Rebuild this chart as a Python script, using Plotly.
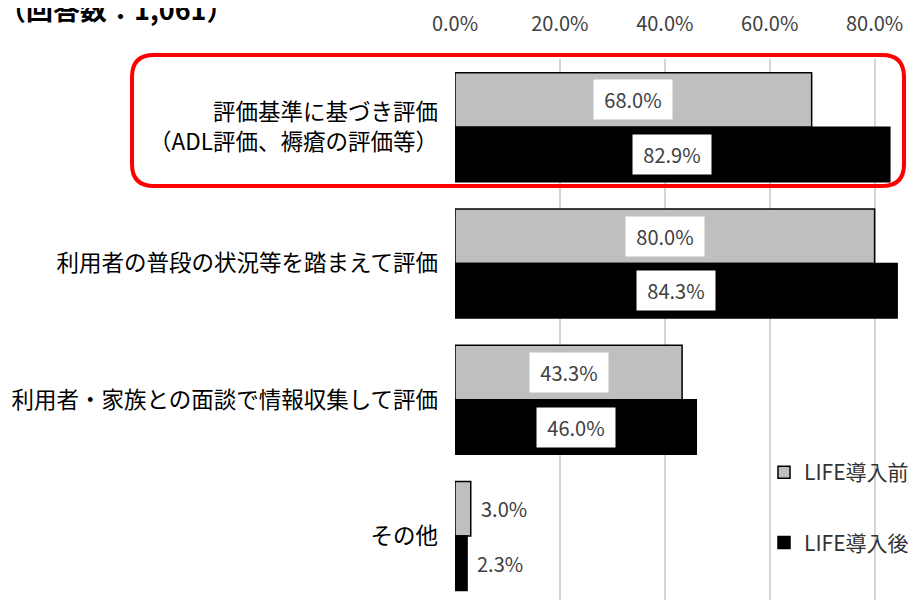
import plotly.graph_objects as go

# data
categories = [
    "評価基準に基づき評価<br>（ADL評価、褥瘡の評価等）",
    "利用者の普段の状況等を踏まえて評価",
    "利用者・家族との面談で情報収集して評価",
    "その他",
]
before_values = [68.0, 80.0, 43.3, 3.0]
after_values = [82.9, 84.3, 46.0, 2.3]
series_names = ["LIFE導入前", "LIFE導入後"]
x_ticks = [0, 20, 40, 60, 80]
title_text = "（回答数：1,061）"

FONT = "Noto Sans CJK JP, Noto Sans, sans-serif"
W, H = 917, 600
OFF = 8  # page body margin of the html page
ML, MT = 455 - OFF, 55 - OFF
PW, PH = W - ML, H - MT
PX_PER_PCT = 5.245
PX_PER_CAT = 137.3


def to_paper(px, py):
    """page pixel position -> paper coords"""
    return (px - OFF - ML) / PW, 1 - (py - OFF - MT) / PH


def rounded_rect(x0p, y0p, x1p, y1p, r):
    x0, yt = to_paper(x0p, y0p)
    x1, yb = to_paper(x1p, y1p)
    rx, ry = r / PW, r / PH
    return (
        f"M {x0+rx},{yt} L {x1-rx},{yt} Q {x1},{yt} {x1},{yt-ry} "
        f"L {x1},{yb+ry} Q {x1},{yb} {x1-rx},{yb} "
        f"L {x0+rx},{yb} Q {x0},{yb} {x0},{yb+ry} "
        f"L {x0},{yt-ry} Q {x0},{yt} {x0+rx},{yt} Z"
    )


ypos = list(range(len(categories)))

fig = go.Figure()
fig.add_trace(
    go.Bar(
        x=before_values,
        y=ypos,
        orientation="h",
        name=series_names[0],
        legendgroup="a",
        marker=dict(color="#bfbfbf", line=dict(color="black", width=1.5)),
    )
)
fig.add_trace(
    go.Bar(
        x=after_values,
        y=ypos,
        orientation="h",
        name=series_names[1],
        legendgroup="b",
        marker=dict(color="black", line=dict(color="black", width=1.5)),
    )
)

label_font = dict(family=FONT, size=20, color="#404040")
annotations = []
for vals, off in ((before_values, -0.2), (after_values, 0.2)):
    for i, v in enumerate(vals):
        label = f"{v:.1f}%"
        if v >= 10:
            annotations.append(
                dict(
                    x=v / 2, y=i + off, xref="x", yref="y", text=label,
                    showarrow=False, bgcolor="white", width=76, height=37,
                    font=label_font,
                )
            )
        else:
            annotations.append(
                dict(
                    x=v, y=i + off, xref="x", yref="y", text=label,
                    showarrow=False, xanchor="left", xshift=8,
                    font=label_font,
                )
            )

tx, ty = to_paper(-3, 4)
annotations.append(
    dict(
        x=tx, y=ty, xref="paper", yref="paper",
        text=f"<b>{title_text}</b>", showarrow=False,
        xanchor="left", yanchor="middle",
        font=dict(family=FONT, size=27, color="black"),
    )
)

lx, ly = to_paper(764, 451)

fig.update_layout(
    width=W,
    height=H,
    margin=dict(l=ML, r=0, t=MT, b=0, pad=0),
    paper_bgcolor="white",
    plot_bgcolor="white",
    barmode="group",
    bargap=0.2,
    bargroupgap=0,
    font=dict(family=FONT, color="black"),
    annotations=annotations,
    shapes=[
        dict(
            type="path", xref="paper", yref="paper",
            path=rounded_rect(132, 51, 904, 183, 22),
            line=dict(color="#ff0000", width=4),
        )
    ],
    legend=dict(
        x=lx, y=ly,
        xanchor="left", yanchor="top",
        bgcolor="rgba(0,0,0,0)",
        tracegroupgap=40,
        font=dict(family=FONT, size=21, color="#333333"),
    ),
    xaxis=dict(
        side="top",
        range=[0, PW / PX_PER_PCT],
        tickvals=x_ticks,
        ticktext=[f"{t:.1f}%" for t in x_ticks],
        showgrid=True,
        gridcolor="#d4d4d4",
        gridwidth=1.5,
        zeroline=False,
        showline=False,
        ticks="",
        ticklabelstandoff=23,
        tickfont=dict(family=FONT, size=20, color="#404040"),
    ),
    yaxis=dict(
        range=[-0.5 + PH / PX_PER_CAT, -0.5],
        tickvals=ypos,
        ticktext=categories,
        showgrid=False,
        zeroline=False,
        showline=False,
        ticks="",
        ticklabelstandoff=16,
        tickfont=dict(family=FONT, size=22.5, color="black"),
    ),
)

fig.write_html("out.html")
